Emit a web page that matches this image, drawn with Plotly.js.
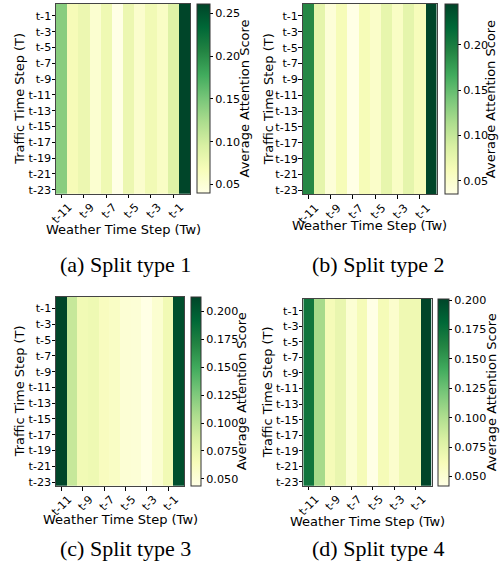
<!DOCTYPE html>
<html>
<head>
<meta charset="utf-8">
<script src="https://cdn.plot.ly/plotly-3.0.1.min.js"></script>
<style>html,body{margin:0;padding:0;background:#fff;}#chart{width:503px;height:571px;}</style>
</head>
<body>
<div id="chart"></div>
<script>
// Categories
const weatherSteps = ['t-11','t-10','t-9','t-8','t-7','t-6','t-5','t-4','t-3','t-2','t-1','t'];
const trafficSteps = ['t','t-1','t-2','t-3','t-4','t-5','t-6','t-7','t-8','t-9','t-10','t-11',
                      't-12','t-13','t-14','t-15','t-16','t-17','t-18','t-19','t-20','t-21','t-22','t-23'];
// Tick labels shown
const weatherTicks = ['t-11','t-9','t-7','t-5','t-3','t-1'];
const trafficTicks = ['t-1','t-3','t-5','t-7','t-9','t-11','t-13','t-15','t-17','t-19','t-21','t-23'];
// Average attention score per weather time step (same for every traffic row)
const split1 = [0.142, 0.069, 0.078, 0.053, 0.075, 0.040, 0.078, 0.055, 0.073, 0.060, 0.091, 0.261];
const split2 = [0.190, 0.077, 0.043, 0.062, 0.035, 0.062, 0.052, 0.075, 0.054, 0.077, 0.060, 0.245];
const split3 = [0.213, 0.095, 0.069, 0.071, 0.062, 0.059, 0.052, 0.051, 0.0437, 0.054, 0.069, 0.207];
const split4 = [0.172, 0.104, 0.063, 0.071, 0.050, 0.063, 0.042, 0.063, 0.053, 0.067, 0.067, 0.201];
const captions = ['(a) Split type 1','(b) Split type 2','(c) Split type 3','(d) Split type 4'];

const W = 503, H = 571;
const px = v => v / W;
const py = v => 1 - v / H;

const YlGn = [[0,'#ffffe5'],[0.125,'#f7fcb9'],[0.25,'#d9f0a3'],[0.375,'#addd8e'],[0.5,'#78c679'],
              [0.625,'#41ab5d'],[0.75,'#238443'],[0.875,'#006837'],[1,'#004529']];

const panels = [
  {vals: split1, x0: 56,    x1: 190,   y0: 4,     y1: 193.7, cbx: 196.7, cbw: 12.6, cbTop: 4,     cbBot: 193,   tf: '.2f', dt: 0.05,
   ytx: 20, xty: 229, cbtx: 244, capx: 125, capy: 264},
  {vals: split2, x0: 302.7, x1: 436.7, y0: 4,     y1: 194.3, cbx: 445,   cbw: 13.3, cbTop: 4,     cbBot: 194.3, tf: '.2f', dt: 0.05,
   ytx: 268, xty: 226, cbtx: 490, capx: 378, capy: 264},
  {vals: split3, x0: 56,    x1: 184,   y0: 296.7, y1: 486,   cbx: 190.7, cbw: 10.3, cbTop: 296.7, cbBot: 486,   tf: '.3f', dt: 0.025,
   ytx: 19, xty: 519, cbtx: 241, capx: 125, capy: 548},
  {vals: split4, x0: 303.3, x1: 431.7, y0: 299,   y1: 485.7, cbx: 438.3, cbw: 11,   cbTop: 299,   cbBot: 485.7, tf: '.3f', dt: 0.025,
   ytx: 267, xty: 521, cbtx: 491, capx: 378, capy: 548}
];

const tickFont = {family: 'DejaVu Sans, sans-serif', size: 11.2, color: '#000'};
const titleFont = {family: 'DejaVu Sans, sans-serif', size: 13, color: '#000'};

const data = [];
const layout = {
  width: W, height: H,
  margin: {l: 0, r: 0, t: 0, b: 0},
  paper_bgcolor: '#fff', plot_bgcolor: '#fff',
  showlegend: false,
  annotations: []
};

panels.forEach((p, i) => {
  const n = i === 0 ? '' : String(i + 1);
  const z = trafficSteps.map(() => p.vals.slice());
  data.push({
    type: 'heatmap',
    x: weatherSteps,
    y: trafficSteps,
    z: z,
    xaxis: 'x' + n,
    yaxis: 'y' + n,
    colorscale: YlGn,
    xgap: 0, ygap: 0,
    hoverinfo: 'skip',
    colorbar: {
      x: px(p.cbx), xanchor: 'left', xpad: 0, ypad: 0,
      y: py((p.cbTop + p.cbBot) / 2), yanchor: 'middle',
      len: (p.cbBot - p.cbTop) / H, lenmode: 'fraction',
      thickness: p.cbw, thicknessmode: 'pixels',
      outlinewidth: 1, outlinecolor: '#333',
      ticks: 'outside', ticklen: 3, tickcolor: '#000', tickwidth: 1,
      tickmode: 'linear', tick0: 0.05, dtick: p.dt, tickformat: p.tf,
      tickfont: tickFont
    }
  });
  layout['xaxis' + n] = {
    domain: [px(p.x0), px(p.x1)], anchor: 'y' + n,
    type: 'category',
    tickmode: 'array', tickvals: weatherTicks, ticktext: weatherTicks,
    tickangle: -45, ticks: 'outside', ticklen: 3.5, tickcolor: '#000',
    ticklabelshift: 7, ticklabelstandoff: -2,
    tickfont: tickFont,
    showline: true, mirror: true, linecolor: '#444', linewidth: 1,
    showgrid: false, zeroline: false, fixedrange: true
  };
  layout['yaxis' + n] = {
    domain: [py(p.y1), py(p.y0)], anchor: 'x' + n,
    type: 'category', autorange: 'reversed',
    tickmode: 'array', tickvals: trafficTicks, ticktext: trafficTicks,
    ticks: 'outside', ticklen: 3.5, tickcolor: '#000',
    ticklabelstandoff: -2,
    tickfont: tickFont,
    showline: true, mirror: true, linecolor: '#444', linewidth: 1,
    showgrid: false, zeroline: false, fixedrange: true
  };
  // Axis titles
  layout.annotations.push({
    text: 'Traffic Time Step (T)', xref: 'paper', yref: 'paper',
    x: px(p.ytx), y: py((p.y0 + p.y1) / 2), xanchor: 'center', yanchor: 'middle',
    textangle: -90, showarrow: false, font: titleFont
  });
  layout.annotations.push({
    text: 'Weather Time Step (Tw)', xref: 'paper', yref: 'paper',
    x: px((p.x0 + p.x1) / 2), y: py(p.xty), xanchor: 'center', yanchor: 'middle',
    showarrow: false, font: titleFont
  });
  layout.annotations.push({
    text: 'Average Attention Score', xref: 'paper', yref: 'paper',
    x: px(p.cbtx), y: py((p.cbTop + p.cbBot) / 2), xanchor: 'center', yanchor: 'middle',
    textangle: -90, showarrow: false, font: titleFont
  });
  layout.annotations.push({
    text: captions[i], xref: 'paper', yref: 'paper',
    x: px(p.capx), y: py(p.capy), xanchor: 'center', yanchor: 'middle',
    showarrow: false, font: {family: 'Liberation Serif, Times New Roman, serif', size: 22, color: '#000'}
  });
});

Plotly.newPlot('chart', data, layout, {displayModeBar: false, staticPlot: true});
</script>
</body>
</html>
